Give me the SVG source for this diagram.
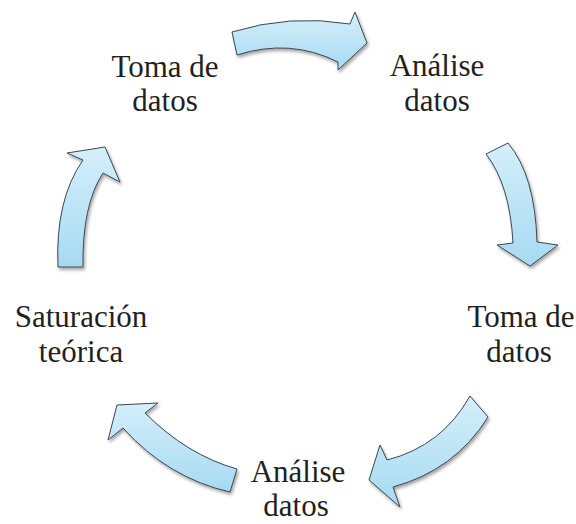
<svg xmlns="http://www.w3.org/2000/svg" width="576" height="524" viewBox="0 0 576 524">
<style>
.lbl{font-family:"Liberation Serif","Times New Roman",serif;font-size:31px;fill:#231f20;text-anchor:middle}
.arr{fill:url(#g);stroke:#3c4650;stroke-width:1;stroke-linejoin:miter;filter:url(#sh)}
</style>
<defs>
<linearGradient id="g" x1="0" y1="0" x2="0" y2="1">
<stop offset="0" stop-color="#d4effa"/>
<stop offset="1" stop-color="#a6daf2"/>
</linearGradient>
<filter id="sh" x="-20%" y="-20%" width="140%" height="140%">
<feDropShadow dx="1.5" dy="2.5" stdDeviation="1.5" flood-color="#000" flood-opacity="0.35"/>
</filter>
</defs>
<rect width="576" height="524" fill="#fff"/>
<g id="connectors">
<path class="arr" d="M232,32 Q290,14 350,24 L355,12 L367,43 L338,70 L338,62 Q290,38 237,55 Z"/>
<path class="arr" d="M486,154 L508,143 Q535,175 537,242 L558,245 L530,266 L497,245 L513,243 Q510,185 486,154 Z"/>
<path class="arr" d="M470,396 L488,417 Q455,470 393,487 L400,507 L369,480 L380,445 L387,460 Q442,446 470,396 Z"/>
<path class="arr" d="M237,469 L230,492 Q168,478 123,428 L108,440 L117,405 L158,403 L145,413 Q187,455 237,469 Z"/>
<path class="arr" d="M58,267 L83,267 Q82,205 103,173 L120,182 L105,147 L67,153 L83,160 Q55,200 58,267 Z"/>
</g>
<g id="node-toma1"><text class="lbl" x="165" y="77">Toma de</text><text class="lbl" x="165" y="111">datos</text></g>
<g id="node-analise1"><text class="lbl" x="437" y="76">Análise</text><text class="lbl" x="437" y="111">datos</text></g>
<g id="node-toma2"><text class="lbl" x="521" y="327">Toma de</text><text class="lbl" x="519" y="362">datos</text></g>
<g id="node-analise2"><text class="lbl" x="298" y="482">Análise</text><text class="lbl" x="296" y="516">datos</text></g>
<g id="node-saturacion"><text class="lbl" x="81" y="327">Saturación</text><text class="lbl" x="81" y="362">teórica</text></g>
</svg>
